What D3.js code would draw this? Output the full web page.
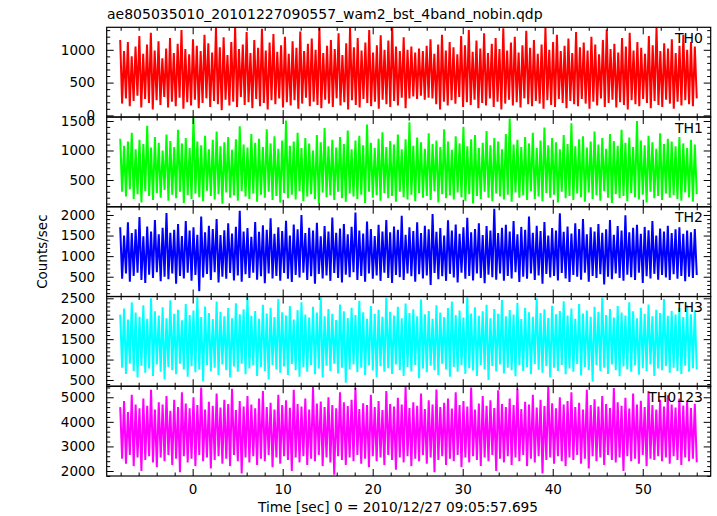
<!DOCTYPE html>
<html>
<head>
<meta charset="utf-8">
<script src="https://cdn.jsdelivr.net/npm/d3@7/dist/d3.min.js"></script>
<style>
  html, body { margin: 0; padding: 0; background: #fff; }
  svg { display: block; }
  text { font-family: "DejaVu Sans", "Liberation Sans", sans-serif; fill: #000; }
</style>
</head>
<body>
<svg id="chart" width="717" height="516"></svg>
<script>
// ---------------- DATA (read / estimated from the reference picture) ----------------
const titleText = "ae805035010_20101227090557_wam2_bst_4band_nobin.qdp";
const xLabelText = "Time [sec] 0 = 2010/12/27 09:05:57.695";
const yLabelText = "Counts/sec";

const seriesNames = ["TH0", "TH1", "TH2", "TH3", "TH0123"];

// time span covered by the light curves (seconds)
const timeStart = -8.05;
const timeEnd = 56.0;

// x axis
const xDomain = [-9.55, 57.55];
const xMajorTicks = [-10, 0, 10, 20, 30, 40, 50];
const xMinorStep = 2;

// y axis per panel
const yDomains = [[-25, 1343], [46, 1567], [19, 2199], [346, 2544], [1797, 5448]];
const th0Ticks = [0, 500, 1000];
const th1Ticks = [500, 1000, 1500];
const th2Ticks = [500, 1000, 1500, 2000];
const th3Ticks = [500, 1000, 1500, 2000, 2500];
const th0123Ticks = [2000, 3000, 4000, 5000];
const yMinorSteps = [100, 100, 100, 100, 200];

// counts/sec, estimated high/low excursions of each light curve in time order
const th0Counts = [
1150,180,980,260,1120,140,900,220,1050,300,1210,120,940,250,1080,190,1260,90,990,230,
1130,160,870,280,1020,120,1180,210,950,140,1090,270,1300,100,1010,200,930,150,1160,240,
1060,110,980,190,1230,260,1100,130,960,220,1340,170,1040,80,1190,240,920,150,1120,210,
1350,130,1010,280,1080,160,1270,200,950,110,1150,250,1030,140,1320,190,990,90,1110,230,
1240,170,970,260,1070,120,1200,200,940,150,1130,230,1030,100,1280,180,980,270,1090,140,
1170,210,1000,160,1340,110,950,240,1060,180,1150,130,1010,260,1250,150,920,200,1100,90,
1340,230,1040,160,1180,120,990,250,1110,190,1300,140,960,210,1070,100,1220,240,1000,170,
1140,130,1350,220,1050,150,980,270,1190,110,1000,260,1050,290,960,250,1020,300,980,240,
1060,270,1160,260,940,170,1080,90,1230,210,990,150,1120,230,1040,180,930,280,1210,130,
1070,200,1300,160,970,240,1140,110,1020,190,1250,150,950,260,1090,130,1180,210,1010,90,
1330,180,990,240,1110,150,1200,200,960,120,1070,260,1290,170,1030,140,1150,220,940,180,
1080,100,1340,230,1000,160,1120,130,1230,250,980,190,1060,110,1170,220,950,170,1270,140,
1040,250,1110,180,990,100,1200,210,1080,150,930,260,1150,130,1310,190,1010,240,1090,120,
960,200,1180,160,1050,90,1260,230,990,170,1120,140,1030,250,940,190,1210,110,1070,220,
1340,160,980,130,1100,240,1020,180,1160,100,950,210,1060,150,1230,230,1000,170,1120,140,1050,260
];

const th1Counts = [
1200,300,1080,220,1150,340,1300,180,1020,260,1180,120,1110,310,1420,230,1050,160,1230,280,
1130,200,1000,330,1270,150,1160,250,1060,190,1350,300,1120,110,1210,240,1040,180,1560,270,
1150,210,1090,140,1250,320,1020,230,1180,170,1320,260,1070,100,1140,290,1230,200,1010,240,
1190,150,1410,310,1100,220,1050,180,1280,270,1130,130,1200,250,1060,200,1360,300,1120,160,
1240,230,1030,120,1170,280,1510,190,1080,250,1150,170,1300,310,1040,140,1210,220,1120,260,
1000,180,1260,100,1140,290,1380,210,1070,240,1180,160,1050,300,1230,190,1110,130,1340,270,
1020,220,1170,180,1250,250,1090,110,1440,300,1130,200,1040,240,1200,150,1310,280,1060,190,
1160,230,1100,130,1270,300,1020,210,1190,170,1480,250,1080,140,1220,280,1140,200,1030,230,
1290,160,1110,310,1170,120,1060,260,1360,190,1150,240,1010,170,1240,290,1120,210,1400,150,
1070,260,1190,100,1260,230,1040,180,1130,300,1330,200,1090,140,1210,270,1150,220,1020,170,
1280,250,1540,130,1100,290,1180,200,1060,240,1230,160,1120,310,1300,180,1040,220,1170,140,
1390,280,1090,200,1210,250,1140,120,1020,300,1260,190,1110,230,1460,160,1070,270,1190,210,
1240,130,1050,290,1150,180,1320,240,1100,150,1210,310,1030,200,1280,110,1160,260,1080,190,
1350,230,1130,140,1220,280,1060,210,1500,170,1170,250,1090,120,1250,300,1140,190,1030,230,
1290,160,1110,270,1200,200,1150,240,1070,180,1230,150,1120,290,1040,210,1180,130,1100,260
];

const th2Counts = [
1700,450,1500,580,1820,380,1560,520,1650,600,1950,420,1480,350,1720,550,1600,470,1880,610,
1530,390,1690,500,2050,440,1570,580,1640,330,1780,520,1490,460,1850,600,1620,400,1700,540,
1520,150,1960,480,1580,570,1740,420,1660,610,1900,360,1510,500,1630,450,1800,590,1550,410,
1710,530,2100,380,1600,560,1680,470,1470,600,1830,430,1590,510,1750,340,1640,580,1920,460,
1540,520,1700,400,1610,590,1860,450,1500,370,1770,540,1650,480,2000,600,1560,420,1690,510,
1620,330,1810,570,1480,460,1730,530,1600,400,1940,590,1570,470,1670,360,1780,550,1530,490,
1710,610,2060,420,1620,520,1550,380,1840,580,1660,450,1490,530,1760,400,1600,600,1880,470,
1580,350,1720,540,1640,490,1980,420,1520,580,1700,510,1610,380,1820,560,1560,460,1740,530,
1650,300,2020,590,1590,440,1680,510,1500,400,1870,570,1620,480,1770,360,1540,600,1700,450,
1930,520,1580,410,1660,580,1800,470,1510,340,1730,550,1620,490,2150,430,1560,580,1690,400,
1760,520,1600,460,1850,610,1530,370,1710,500,1640,450,1960,580,1570,420,1740,530,1610,330,
1830,570,1500,480,1680,520,1620,410,2040,590,1590,460,1720,370,1550,540,1800,500,1660,430,
1900,600,1530,380,1700,520,1600,470,1780,560,1570,310,1650,500,1880,440,1520,580,1730,470,
1620,400,1990,550,1580,490,1690,420,1760,600,1540,350,1710,510,1630,460,1850,570,1500,430,
1670,540,1600,480,1740,420,1560,560,1650,450,1700,520,1540,390,1620,500,1580,470,1660,540
];

const th3Counts = [
2100,800,2250,650,1980,900,2400,720,2150,560,2050,850,2330,680,2000,780,2500,600,2180,880,
2080,700,2280,520,2010,820,2450,740,2120,640,2220,900,1960,760,2360,580,2090,840,2200,690,
2530,760,2040,470,2300,870,2140,710,1990,800,2420,620,2170,880,2060,740,2260,560,2010,830,
2380,700,2110,900,2230,640,2550,780,2070,860,2190,600,2000,820,2340,720,2130,510,2270,870,
2040,760,2480,680,2160,830,2080,620,2310,890,1980,740,2210,580,2400,810,2100,700,2030,870,
2290,640,2150,780,2540,560,2060,850,2240,720,2120,900,1970,660,2350,800,2180,430,2020,760,
2270,880,2090,690,2440,800,2160,620,2000,860,2310,730,2120,570,2220,840,2050,700,2520,790,
2170,650,2080,880,2290,740,2010,600,2370,820,2140,710,2230,870,2060,540,2470,780,2110,690,
2190,850,2000,740,2330,620,2150,900,2040,760,2260,580,2420,820,2090,700,2200,860,2030,650,
2550,790,2130,730,2280,600,2070,870,2180,760,2340,500,2010,840,2240,710,2120,880,2460,660,
2060,800,2210,740,2100,590,2390,860,1990,720,2270,810,2160,640,2050,890,2500,750,2140,680,
2230,840,2020,560,2320,800,2110,720,2190,870,2430,640,2080,780,2250,700,2000,890,2360,610,
2130,820,2200,740,2050,460,2290,860,2170,720,2520,800,2090,650,2240,880,2030,740,2310,590,
2150,830,2080,760,2400,700,2180,860,2010,630,2270,790,2120,720,2350,880,2060,600,2220,780,
2140,740,2480,840,2070,680,2190,800,2100,720,2260,650,2040,850,2330,700,2110,790,2200,760
];

const th0123Counts = [
4600,2500,4850,2300,4400,2650,5100,2200,4700,2550,4550,2000,4950,2450,4650,2600,5300,2350,4500,2150,
4800,2550,4700,2400,5050,2650,4450,2250,4900,2500,4600,1950,5200,2600,4750,2350,4550,2500,5000,2200,
4680,2650,5400,2400,4500,2550,4820,2100,4650,2450,5150,2600,4580,2300,4900,2500,4720,2200,5350,2650,
4480,2400,4850,1900,4620,2550,5050,2350,4700,2600,4550,2250,4950,2500,5250,2400,4600,2650,4780,2150,
4500,2550,5100,2300,4680,2600,4880,2450,4570,2000,5300,2550,4720,2350,4620,2600,4950,2250,4500,2500,
5420,2400,4750,2650,4830,2200,4600,2550,5000,2350,4680,1850,4550,2600,5200,2450,4800,2250,4640,2550,
4900,2400,5380,2650,4520,2300,4760,2500,4680,2150,5100,2600,4600,2400,4850,2550,4480,2250,5250,2650,
4720,2450,4620,2050,4980,2550,4700,2350,5440,2600,4560,2200,4800,2500,4650,2400,5150,2650,4520,2300,
4880,2550,4700,1950,5320,2450,4600,2600,4780,2250,4950,2500,4540,2400,5200,2650,4680,2150,4850,2550,
4620,2350,5400,2600,4500,2450,4750,2200,5050,2550,4650,2400,4880,2650,4560,2000,5280,2500,4720,2350,
4600,2600,4950,2250,4680,2550,5350,2400,4520,2650,4820,2200,4700,2500,5100,2350,4580,2600,4900,1900,
4640,2450,5440,2550,4760,2300,4550,2600,5000,2400,4700,2200,4850,2550,5200,2450,4600,2650,4780,2300,
4500,2500,5300,2100,4680,2600,4920,2400,4620,2550,5050,2250,4720,2650,4560,2450,5380,2350,4800,2550,
4650,2000,4980,2600,4540,2400,5150,2500,4700,2300,4860,2650,4600,2200,5250,2500,4680,2450,4500,2600,
4900,2400,4620,2550,5080,2300,4700,2600,4580,2450,4950,2250,4660,2550,4820,2400,4560,2500,4740,2350
];

const seriesData = [th0Counts, th1Counts, th2Counts, th3Counts, th0123Counts];
const seriesTicks = [th0Ticks, th1Ticks, th2Ticks, th3Ticks, th0123Ticks];

// ---------------- STYLE ----------------
const seriesColors = ["#ff0000", "#00ff00", "#0000ff", "#00ffff", "#ff00ff"];
const frame = { left: 106.7, right: 710.7, top: 27.3, bottom: 476 };
const fontSize = 13.5;
const majorLen = 7, minorLen = 3.5;

// ---------------- DRAW ----------------
const svg = d3.select("#chart");
const nPanels = seriesData.length;
const panelH = (frame.bottom - frame.top) / nPanels;

const x = d3.scaleLinear().domain(xDomain).range([frame.left, frame.right]);
const xMinorTicks = d3.range(-10, 58, xMinorStep).filter(v => v % 10 !== 0);
const fmt = d3.format("d");

const defs = svg.append("defs");

seriesData.forEach((vals, i) => {
  const top = frame.top + i * panelH;
  const bot = top + panelH;
  const y = d3.scaleLinear().domain(yDomains[i]).range([bot, top]);
  const n = vals.length;
  const tAt = j => timeStart + j * (timeEnd - timeStart) / (n - 1);

  defs.append("clipPath").attr("id", "clip" + i)
    .append("rect").attr("x", frame.left).attr("y", top)
    .attr("width", frame.right - frame.left).attr("height", panelH);

  const line = d3.line().x((d, j) => x(tAt(j))).y(d => y(d));

  svg.append("path")
    .datum(vals)
    .attr("clip-path", "url(#clip" + i + ")")
    .attr("fill", "none")
    .attr("stroke", seriesColors[i])
    .attr("stroke-width", 2.0)
    .attr("stroke-linejoin", "bevel")
    .attr("d", line);

  const g = svg.append("g");

  const [d0, d1] = yDomains[i];
  const step = yMinorSteps[i];
  const yMinor = d3.range(Math.ceil(d0 / step) * step, d1, step)
    .filter(v => seriesTicks[i].indexOf(v) < 0);

  // left axis: labels + inward major ticks
  g.append("g").attr("transform", `translate(${frame.left},0)`)
    .call(d3.axisLeft(y).tickValues(seriesTicks[i]).tickSize(-majorLen).tickPadding(11.5).tickFormat(fmt))
    .call(a => a.select(".domain").remove())
    .call(a => a.selectAll("text").attr("font-size", fontSize).attr("font-family", "DejaVu Sans"));
  g.append("g").attr("transform", `translate(${frame.left},0)`)
    .call(d3.axisLeft(y).tickValues(yMinor).tickSize(-minorLen).tickFormat(""))
    .call(a => a.select(".domain").remove());
  // right axis: inward ticks, no labels
  g.append("g").attr("transform", `translate(${frame.right},0)`)
    .call(d3.axisRight(y).tickValues(seriesTicks[i]).tickSize(-majorLen).tickFormat(""))
    .call(a => a.select(".domain").remove());
  g.append("g").attr("transform", `translate(${frame.right},0)`)
    .call(d3.axisRight(y).tickValues(yMinor).tickSize(-minorLen).tickFormat(""))
    .call(a => a.select(".domain").remove());

  // top x ticks
  const xm = xMajorTicks.filter(v => v >= xDomain[0] && v <= xDomain[1]);
  const xmi = xMinorTicks.filter(v => v >= xDomain[0] && v <= xDomain[1]);
  g.append("g").attr("transform", `translate(0,${top})`)
    .call(d3.axisTop(x).tickValues(xm).tickSize(-majorLen).tickFormat(""))
    .call(a => a.select(".domain").remove());
  g.append("g").attr("transform", `translate(0,${top})`)
    .call(d3.axisTop(x).tickValues(xmi).tickSize(-minorLen).tickFormat(""))
    .call(a => a.select(".domain").remove());
  // bottom x ticks (labels only on the last panel)
  const isLast = i === nPanels - 1;
  g.append("g").attr("transform", `translate(0,${bot})`)
    .call(d3.axisBottom(x).tickValues(xm).tickSize(-majorLen).tickPadding(8.5)
      .tickFormat(isLast ? fmt : ""))
    .call(a => a.select(".domain").remove())
    .call(a => a.selectAll("text").attr("font-size", fontSize).attr("font-family", "DejaVu Sans"));
  g.append("g").attr("transform", `translate(0,${bot})`)
    .call(d3.axisBottom(x).tickValues(xmi).tickSize(-minorLen).tickFormat(""))
    .call(a => a.select(".domain").remove());

  g.selectAll(".tick line").attr("stroke", "#000").attr("stroke-width", 1);

  // frame
  svg.append("rect")
    .attr("x", frame.left).attr("y", top)
    .attr("width", frame.right - frame.left).attr("height", panelH)
    .attr("fill", "none").attr("stroke", "#000").attr("stroke-width", 1.2);

  // panel label
  svg.append("text")
    .attr("x", 703).attr("y", top + 15.5)
    .attr("text-anchor", "end")
    .attr("font-size", 14)
    .text(seriesNames[i]);
});

// title
svg.append("text")
  .attr("x", 107).attr("y", 19)
  .attr("font-size", 14)
  .text(titleText);

// x label
svg.append("text")
  .attr("x", 398).attr("y", 512)
  .attr("text-anchor", "middle")
  .attr("font-size", 13.7)
  .text(xLabelText);

// y label
svg.append("text")
  .attr("transform", `translate(47,${(frame.top + frame.bottom) / 2}) rotate(-90)`)
  .attr("text-anchor", "middle")
  .attr("font-size", 13.5)
  .text(yLabelText);
</script>
</body>
</html>
